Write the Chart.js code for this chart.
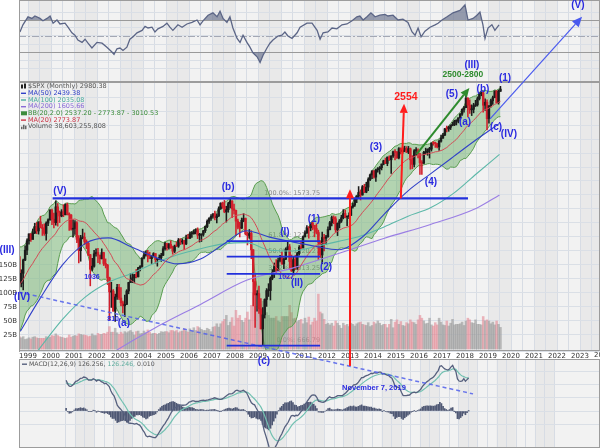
<!DOCTYPE html>
<html>
<head>
<meta charset="utf-8">
<script src="https://cdn.jsdelivr.net/npm/chart.js@4.4.1/dist/chart.umd.min.js"></script>
<style>
  html, body { margin: 0; padding: 0; background: #fff; }
  #wrap { position: relative; width: 600px; height: 448px; overflow: hidden; }
  canvas { position: absolute; left: 0; }
  #topCv { top: 0; z-index: 1; }
  #macdCv { top: 359px; z-index: 1; }
  #mainCv { top: 0; z-index: 2; }
</style>
</head>
<body>
<div id="wrap">
  <canvas id="topCv" width="600" height="82"></canvas>
  <canvas id="macdCv" width="600" height="89"></canvas>
  <canvas id="mainCv" width="600" height="448"></canvas>
</div>
<script>
// $SPX monthly closes, Jan 1995 .. Jul 2019 (the years before Aug 1998 only feed MA20 / BB / MACD)
const firstYear = 1995;
const closes = [
  470.42, 487.39, 500.71, 514.71, 533.40, 544.75, 562.06, 561.88, 584.41, 581.50, 605.37, 615.93,
  636.02, 640.43, 645.50, 654.17, 669.12, 670.63, 639.95, 651.99, 687.33, 705.27, 757.02, 740.74,
  786.16, 790.82, 757.12, 801.34, 848.28, 885.14, 954.31, 899.47, 947.28, 914.62, 955.40, 970.43,
  980.28, 1049.34, 1101.75, 1111.75, 1090.82, 1133.84, 1120.67, 957.28, 1017.01, 1098.67, 1163.63, 1229.23,
  1279.64, 1238.33, 1286.37, 1335.18, 1301.84, 1372.71, 1328.72, 1320.41, 1282.71, 1362.93, 1388.91, 1469.25,
  1394.46, 1366.42, 1498.58, 1452.43, 1420.60, 1454.60, 1430.83, 1517.68, 1436.51, 1429.40, 1314.95, 1320.28,
  1366.01, 1239.94, 1160.33, 1249.46, 1255.82, 1224.42, 1211.23, 1133.58, 1040.94, 1059.78, 1139.45, 1148.08,
  1130.20, 1106.73, 1147.39, 1076.92, 1067.14, 989.82, 911.62, 916.07, 815.28, 885.76, 936.31, 879.82,
  855.70, 841.15, 848.18, 916.92, 963.59, 974.50, 990.31, 1008.01, 995.97, 1050.71, 1058.20, 1111.92,
  1131.13, 1144.94, 1126.21, 1107.30, 1120.68, 1140.84, 1101.72, 1104.24, 1114.58, 1130.20, 1173.82, 1211.92,
  1181.27, 1203.60, 1180.59, 1156.85, 1191.50, 1191.33, 1234.18, 1220.33, 1228.81, 1207.01, 1249.48, 1248.29,
  1280.08, 1280.66, 1294.87, 1310.61, 1270.09, 1270.20, 1276.66, 1303.82, 1335.85, 1377.94, 1400.63, 1418.30,
  1438.24, 1406.82, 1420.86, 1482.37, 1530.62, 1503.35, 1455.27, 1473.99, 1526.75, 1549.38, 1481.14, 1468.36,
  1378.55, 1330.63, 1322.70, 1385.59, 1400.38, 1280.00, 1267.38, 1282.83, 1166.36, 968.75, 896.24, 903.25,
  825.88, 735.09, 797.87, 872.81, 919.14, 919.32, 987.48, 1020.62, 1057.08, 1036.19, 1095.63, 1115.10,
  1073.87, 1104.49, 1169.43, 1186.69, 1089.41, 1030.71, 1101.60, 1049.33, 1141.20, 1183.26, 1180.55, 1257.64,
  1286.12, 1327.22, 1325.83, 1363.61, 1345.20, 1320.64, 1292.28, 1218.89, 1131.42, 1253.30, 1246.96, 1257.60,
  1312.41, 1365.68, 1408.47, 1397.91, 1310.33, 1362.16, 1379.32, 1406.58, 1440.67, 1412.16, 1416.18, 1426.19,
  1498.11, 1514.68, 1569.19, 1597.57, 1630.74, 1606.28, 1685.73, 1632.97, 1681.55, 1756.54, 1805.81, 1848.36,
  1782.59, 1859.45, 1872.34, 1883.95, 1923.57, 1960.23, 1930.67, 2003.37, 1972.29, 2018.05, 2067.56, 2058.90,
  1994.99, 2104.50, 2067.89, 2085.51, 2107.39, 2063.11, 2103.84, 1972.18, 1920.03, 2079.36, 2080.41, 2043.94,
  1940.24, 1932.23, 2059.74, 2065.30, 2096.95, 2098.86, 2173.60, 2170.95, 2168.27, 2126.15, 2198.81, 2238.83,
  2278.87, 2363.64, 2362.72, 2384.20, 2411.80, 2423.41, 2470.30, 2471.65, 2519.36, 2575.26, 2647.58, 2673.61,
  2823.81, 2713.83, 2640.87, 2648.05, 2705.27, 2718.37, 2816.29, 2901.52, 2913.98, 2711.74, 2760.17, 2506.85,
  2704.10, 2784.49, 2834.40, 2945.83, 2752.06, 2941.76, 2980.38
];

// candles are drawn from Aug 1998 (index 43 of closes)
const candleStart = 43;
const highs = [
  1121, 1038, 1104, 1193, 1244,
  1280, 1282, 1316, 1362, 1368, 1373, 1419, 1352, 1357, 1373, 1397, 1474,
  1479, 1445, 1553, 1528, 1463, 1475, 1517, 1525, 1531, 1448, 1433, 1389,
  1384, 1376, 1268, 1269, 1316, 1287, 1236, 1220, 1136, 1110, 1163, 1173,
  1176, 1131, 1173, 1150, 1106, 1071, 994, 965, 925, 900, 954, 954,
  935, 865, 895, 924, 965, 1015, 1015, 1011, 1040, 1053, 1063, 1112,
  1155, 1159, 1163, 1150, 1128, 1147, 1141, 1109, 1132, 1143, 1188, 1218,
  1212, 1212, 1229, 1192, 1199, 1220, 1246, 1245, 1243, 1233, 1270, 1276,
  1295, 1297, 1311, 1318, 1326, 1284, 1281, 1306, 1340, 1390, 1407, 1432,
  1441, 1461, 1438, 1499, 1535, 1541, 1556, 1504, 1539, 1576, 1555, 1523,
  1471, 1396, 1370, 1404, 1440, 1404, 1293, 1313, 1304, 1167, 1007, 919,
  943, 877, 832, 876, 930, 957, 996, 1039, 1080, 1101, 1111, 1130,
  1150, 1113, 1180, 1220, 1203, 1131, 1120, 1130, 1150, 1196, 1227, 1263,
  1303, 1344, 1333, 1364, 1371, 1346, 1357, 1308, 1230, 1293, 1277, 1269,
  1333, 1378, 1420, 1422, 1415, 1364, 1392, 1427, 1475, 1470, 1420, 1448,
  1504, 1531, 1570, 1598, 1687, 1654, 1698, 1710, 1730, 1776, 1814, 1849,
  1851, 1868, 1884, 1897, 1925, 1968, 1992, 2006, 2019, 2019, 2076, 2093,
  2072, 2119, 2115, 2126, 2135, 2130, 2133, 2113, 2021, 2094, 2117, 2104,
  2044, 1963, 2072, 2111, 2103, 2121, 2178, 2194, 2187, 2169, 2214, 2278,
  2301, 2371, 2401, 2398, 2419, 2454, 2484, 2491, 2520, 2582, 2657, 2695,
  2873, 2835, 2801, 2718, 2743, 2791, 2848, 2916, 2941, 2940, 2815, 2800,
  2708, 2813, 2861, 2950, 2955, 2965, 3028
];
const lows = [
  940, 939, 923, 1094, 1134,
  1206, 1224, 1244, 1282, 1281, 1278, 1325, 1268, 1269, 1233, 1342, 1387,
  1350, 1325, 1347, 1339, 1367, 1414, 1415, 1430, 1429, 1305, 1308, 1255,
  1275, 1215, 1081, 1091, 1243, 1203, 1174, 1126, 945, 1031, 1054, 1124,
  1082, 1074, 1105, 1064, 1049, 952, 775, 833, 815, 768, 873, 872,
  840, 807, 789, 847, 902, 963, 963, 961, 990, 995, 1031, 1054,
  1106, 1123, 1087, 1107, 1077, 1118, 1078, 1060, 1100, 1090, 1127, 1163,
  1163, 1171, 1176, 1137, 1147, 1188, 1183, 1202, 1206, 1168, 1201, 1245,
  1245, 1253, 1277, 1280, 1245, 1220, 1224, 1263, 1290, 1327, 1360, 1385,
  1403, 1389, 1364, 1416, 1476, 1485, 1448, 1371, 1452, 1490, 1406, 1435,
  1270, 1317, 1257, 1321, 1374, 1272, 1200, 1247, 1107, 840, 741, 815,
  805, 735, 667, 783, 838, 888, 870, 979, 992, 1020, 1029, 1086,
  1071, 1045, 1101, 1165, 1040, 1028, 1011, 1040, 1040, 1131, 1173, 1179,
  1257, 1283, 1249, 1303, 1311, 1258, 1282, 1102, 1115, 1075, 1159, 1203,
  1255, 1310, 1341, 1358, 1292, 1267, 1325, 1368, 1397, 1404, 1343, 1399,
  1424, 1486, 1502, 1536, 1581, 1560, 1604, 1628, 1627, 1646, 1747, 1767,
  1771, 1738, 1834, 1815, 1859, 1915, 1929, 1905, 1964, 1821, 2001, 1972,
  1988, 1981, 2040, 2048, 2067, 2057, 2044, 1867, 1872, 1893, 2019, 1993,
  1812, 1810, 1931, 2039, 2025, 1992, 2075, 2147, 2120, 2115, 2084, 2187,
  2234, 2271, 2322, 2329, 2353, 2405, 2407, 2417, 2447, 2515, 2557, 2605,
  2672, 2533, 2585, 2553, 2594, 2691, 2698, 2796, 2865, 2604, 2631, 2347,
  2444, 2682, 2723, 2832, 2750, 2729, 2940
];
// monthly volume, billions of shares
const volumes = [
  22, 20, 22, 17, 18,
  20, 18, 21, 22, 20, 19, 19, 19, 19, 22, 20, 21,
  24, 23, 27, 24, 22, 21, 20, 19, 20, 25, 21, 23,
  24, 23, 27, 26, 25, 25, 24, 22, 23, 27, 24, 24,
  28, 26, 26, 28, 27, 30, 40, 30, 30, 37, 29, 26,
  30, 27, 31, 29, 31, 33, 30, 25, 31, 32, 27, 28,
  32, 29, 34, 30, 27, 28, 28, 26, 28, 31, 30, 31,
  31, 29, 33, 33, 31, 33, 29, 31, 32, 36, 32, 30,
  36, 32, 38, 33, 40, 38, 35, 33, 33, 37, 35, 31,
  39, 40, 45, 39, 45, 49, 53, 60, 42, 48, 56, 41,
  69, 55, 60, 51, 48, 55, 66, 52, 78, 100, 76, 67,
  70, 80, 85, 70, 65, 60, 55, 55, 55, 58, 50, 48,
  58, 58, 58, 58, 78, 65, 54, 55, 49, 51, 53, 45,
  55, 47, 57, 43, 48, 55, 50, 98, 66, 63, 53, 44,
  46, 43, 46, 41, 50, 46, 42, 37, 46, 42, 44, 40,
  46, 44, 41, 45, 47, 48, 44, 43, 42, 47, 40, 42,
  48, 45, 50, 46, 42, 44, 44, 38, 44, 53, 38, 48,
  52, 44, 49, 42, 41, 47, 45, 52, 48, 47, 44, 52,
  60, 55, 50, 45, 46, 55, 43, 41, 47, 43, 55, 48,
  43, 42, 50, 41, 46, 53, 43, 44, 44, 45, 48, 42,
  50, 55, 52, 47, 46, 52, 44, 44, 43, 58, 50, 52,
  50, 45, 48, 43, 50, 44, 38.6
];

// long moving averages (mid-year points)
const maYears = [1998.67, 1999.5, 2000.5, 2001.5, 2002.5, 2003.5, 2004.5, 2005.5, 2006.5, 2007.5, 2008.5,
                 2009.5, 2010.5, 2011.5, 2012.5, 2013.5, 2014.5, 2015.5, 2016.5, 2017.5, 2018.5, 2019.5];
const ma50 = [725, 873, 1068, 1211, 1250, 1186, 1119, 1074, 1105, 1205, 1303,
              1256, 1221, 1190, 1167, 1251, 1439, 1641, 1817, 2009, 2220, 2439];
const ma100 = [567, 655, 777, 886, 965, 1016, 1078, 1133, 1174, 1207, 1216,
               1165, 1158, 1189, 1225, 1266, 1334, 1417, 1490, 1621, 1818, 2035];
const ma200Years = [2000.5, 2002.5, 2004.5, 2006.5, 2008.5, 2010.5, 2012.5, 2014.5, 2016.5, 2018.5, 2019.5];
const ma200 = [524, 630, 738, 848, 976, 1048, 1141, 1248, 1352, 1487, 1606];

// top indicator panel
const rsiYears = [
  1998.65, 1998.78, 1999.00, 1999.17, 1999.30, 1999.52, 1999.65, 1999.83, 1999.96, 2000.09, 2000.26, 2000.39,
  2000.61, 2000.74, 2000.91, 2001.04, 2001.17, 2001.35, 2001.48, 2001.61, 2001.78, 2002.00, 2002.22, 2002.43,
  2002.65, 2002.74, 2002.87, 2003.00, 2003.13, 2003.30, 2003.43, 2003.57, 2003.74, 2003.96, 2004.09, 2004.22,
  2004.39, 2004.52, 2004.65, 2004.87, 2005.04, 2005.17, 2005.30, 2005.52, 2005.70, 2005.91, 2006.13, 2006.35,
  2006.48, 2006.61, 2006.83, 2007.04, 2007.22, 2007.35, 2007.48, 2007.65, 2007.78, 2007.91, 2008.09, 2008.22,
  2008.35, 2008.52, 2008.65, 2008.78, 2008.96, 2009.09, 2009.22, 2009.39, 2009.52, 2009.65, 2009.87, 2010.04,
  2010.17, 2010.30, 2010.48, 2010.70, 2010.83, 2011.13, 2011.35, 2011.57, 2011.70, 2011.83, 2012.04, 2012.22,
  2012.43, 2012.65, 2012.87, 2013.09, 2013.30, 2013.43, 2013.57, 2013.74, 2013.91, 2014.09, 2014.30, 2014.52,
  2014.65, 2014.87, 2015.09, 2015.30, 2015.52, 2015.70, 2015.83, 2015.96, 2016.09, 2016.26, 2016.48, 2016.70,
  2016.83, 2017.00, 2017.22, 2017.48, 2017.78, 2018.00, 2018.13, 2018.35, 2018.52, 2018.65, 2018.78, 2018.87,
  2019.00, 2019.17, 2019.30, 2019.48
];
const rsiValues = [
  55, 64, 74, 72, 75, 72, 69, 72, 75, 66, 70, 65,
  66, 61, 54, 51, 45, 42, 46, 41, 35, 42, 41, 36,
  30, 27, 34, 35, 32, 36, 46, 49, 54, 57, 62, 60,
  61, 55, 59, 62, 66, 61, 57, 64, 61, 65, 67, 70,
  64, 69, 76, 79, 74, 81, 72, 67, 74, 60, 47, 42,
  51, 42, 36, 29, 24, 17, 26, 35, 41, 45, 50, 51,
  55, 50, 47, 54, 61, 66, 66, 57, 46, 54, 55, 60,
  59, 64, 65, 69, 74, 75, 70, 74, 79, 74, 76, 77,
  75, 76, 70, 71, 67, 55, 51, 60, 49, 56, 61, 64,
  66, 70, 74, 79, 82, 89, 70, 72, 76, 80, 64, 47,
  60, 64, 57, 64
];
const rsiLevels = [70, 50, 30];

const xMin = 1998.609, xMax = 2023.87;
const yearTicks = [2024]; // year label cut off at the right edge

// annotations, in (year, price) terms of the price panel
const fibHigh = 1573.75, fibLow = 666.79;
const fibLevels = [0.618, 0.5, 0.382, 0];
const fibSpan = [2007.64, 2011.70];
const topLine = { from: 2000.07, to: 2018.13, price: 1573.75 };
const arrows = [
  { kind: 'red', x0: 2013.0, p0: 592, x1: 2013.0, p1: 1660 },
  { kind: 'red', x0: 2015.21, p0: 1573.75, x1: 2015.35, p1: 2734 },
  { kind: 'green', x0: 2015.9, p0: 2039, x1: 2018.19, p1: 3000 },
  { kind: 'blue', x0: 2019.09, p0: 2505, x1: 2023.09, p1: 4545 }
];
const dashTrend = { x0: 1998.61, p0: 911, x1: 2018.35, p1: 503 };
const waveLabels = [
  ['(III)', 1998.09, 1166, 'wave'], ['(IV)', 1998.74, 885, 'wave'], ['(V)', 2000.39, 1640, 'wave'],
  ['1036', 2001.78, 995, 'small'], ['810', 2002.70, 777, 'small'], ['(a)', 2003.17, 759, 'wave'],
  ['(b)', 2007.70, 1679, 'wave'], ['(I)', 2010.17, 1289, 'wave'], ['(1)', 2011.43, 1390, 'wave'],
  ['(2)', 2011.96, 1055, 'wave'], ['1027', 2010.22, 995, 'small'], ['(II)', 2010.70, 960, 'wave'],
  ['(c)', 2009.26, 607, 'wave'], ['(3)', 2014.13, 2124, 'wave'], ['(4)', 2016.52, 1729, 'wave'],
  ['(5)', 2017.43, 2899, 'wave'], ['(a)', 2018.00, 2461, 'wave'], ['(b)', 2018.78, 2970, 'wave'],
  ['(c)', 2019.35, 2391, 'wave'], ['(IV)', 2019.91, 2292, 'wave'], ['(1)', 2019.74, 3169, 'wave'],
  ['(III)', 2018.30, 3418, 'wave'], ['(V)', 2022.91, 4863, 'wave'],
  ['2500-2800', 2017.91, 3244, 'target'], ['2554', 2015.43, 2850, 'red'],
  ['November 7, 2019', 2014.04, 521, 'date']
];

// ---- derived series ----
const monthPos = i => firstYear + (i + 0.5) / 12;

const ma20Pts = [], bbUpPts = [], bbLowPts = [];
for (let i = candleStart - 1; i < closes.length; i++) {
  const win = closes.slice(i - 19, i + 1);
  const m = win.reduce((a, b) => a + b, 0) / 20;
  const sd = Math.sqrt(win.reduce((a, b) => a + (b - m) * (b - m), 0) / 20);
  ma20Pts.push({ x: monthPos(i), y: m });
  bbUpPts.push({ x: monthPos(i), y: m + 2 * sd });
  bbLowPts.push({ x: monthPos(i), y: m - 2 * sd });
}

function ema(arr, n) {
  const k = 2 / (n + 1);
  let e = arr[0];
  return arr.map((v, i) => (i === 0 ? e : (e = v * k + e * (1 - k))));
}
const ema12 = ema(closes, 12), ema26 = ema(closes, 26);
const macd = closes.map((c, i) => ema12[i] - ema26[i]);
const signal = ema(macd, 9);

const wickPts = [], bodyPts = [], volPts = [], upFlags = [];
const macdPts = [], sigPts = [], histPts = [];
for (let i = candleStart; i < closes.length; i++) {
  const k = i - candleStart;
  const open = closes[i - 1], close = closes[i];
  const x = monthPos(i);
  upFlags.push(close >= open);
  wickPts.push({ x, y: [lows[k], highs[k]] });
  bodyPts.push({ x, y: [open, close] });
  volPts.push({ x, y: volumes[k] });
}
for (let i = candleStart - 1; i < closes.length; i++) {
  macdPts.push({ x: monthPos(i), y: macd[i] });
  sigPts.push({ x: monthPos(i), y: signal[i] });
  histPts.push({ x: monthPos(i), y: macd[i] - signal[i] });
}

// ---- shared panel background: alternate year bands + half-year grid ----
const panelBg = {
  id: 'panelBg',
  beforeDraw(chart) {
    const { ctx, chartArea: a, scales: { x } } = chart;
    ctx.save();
    ctx.fillStyle = '#f2f2f2';
    ctx.fillRect(a.left, a.top, a.right - a.left, a.bottom - a.top);
    ctx.beginPath();
    ctx.rect(a.left, a.top, a.right - a.left, a.bottom - a.top);
    ctx.clip();
    ctx.fillStyle = '#e9e9e9';
    for (let yr = 1999; yr < 2025; yr += 2) {
      const x0 = x.getPixelForValue(yr), x1 = x.getPixelForValue(yr + 1);
      ctx.fillRect(x0, a.top, x1 - x0, a.bottom - a.top);
    }
    ctx.strokeStyle = '#d7dce4';
    ctx.lineWidth = 1;
    for (let v = 1998.5; v < 2024.5; v += 0.5) {
      const px = Math.round(x.getPixelForValue(v)) + 0.5;
      ctx.beginPath(); ctx.moveTo(px, a.top); ctx.lineTo(px, a.bottom); ctx.stroke();
    }
    ctx.restore();
  },
  afterDraw(chart) {
    const { ctx, chartArea: a } = chart;
    ctx.save();
    ctx.strokeStyle = '#9c9c9c';
    ctx.lineWidth = 1;
    ctx.strokeRect(a.left + 0.5, a.top + 0.5, a.right - a.left - 1, a.bottom - a.top - 1);
    ctx.restore();
  }
};

const hideAxisX = { type: 'linear', min: xMin, max: xMax, display: false };
const leftAxisFit = s => { s.width = 19; };

// ---- top indicator panel ----
const shade = 'rgba(92,102,132,0.6)';
new Chart(document.getElementById('topCv'), {
  type: 'line',
  data: {
    datasets: [
      { data: rsiYears.map((t, i) => ({ x: t, y: rsiValues[i] })), borderColor: '#5b6586', borderWidth: 1.3,
        pointRadius: 0, fill: false, order: 1 },
      { data: rsiYears.map((t, i) => ({ x: t, y: rsiValues[i] })), borderWidth: 0, pointRadius: 0,
        fill: { target: { value: 70 }, above: shade, below: 'rgba(0,0,0,0)' }, order: 2 },
      { data: rsiYears.map((t, i) => ({ x: t, y: rsiValues[i] })), borderWidth: 0, pointRadius: 0,
        fill: { target: { value: 30 }, above: 'rgba(0,0,0,0)', below: shade }, order: 3 }
    ]
  },
  options: {
    responsive: false, animation: false, devicePixelRatio: 1,
    layout: { padding: 0 },
    plugins: { legend: { display: false }, tooltip: { enabled: false } },
    scales: {
      x: hideAxisX,
      y: { min: -7.5, max: 95, grid: { color: '#dadfe6', drawTicks: false }, border: { display: false },
           ticks: { display: false, stepSize: 10 }, afterFit: leftAxisFit }
    }
  },
  plugins: [panelBg, {
    id: 'levels',
    beforeDatasetsDraw(chart) {
      const { ctx, chartArea: a, scales: { y } } = chart;
      ctx.save();
      rsiLevels.forEach(v => {
        const py = Math.round(y.getPixelForValue(v)) + 0.5;
        ctx.strokeStyle = v === 50 ? '#a4a8b4' : '#9a9a9a';
        ctx.setLineDash(v === 50 ? [7, 2, 2, 2] : []);
        ctx.beginPath(); ctx.moveTo(a.left, py); ctx.lineTo(a.right, py); ctx.stroke();
      });
      ctx.restore();
    }
  }]
});

// ---- MACD panel ----
new Chart(document.getElementById('macdCv'), {
  type: 'bar',
  data: {
    datasets: [
      { type: 'line', data: macdPts, borderColor: '#56607e', borderWidth: 1.3, pointRadius: 0, order: 1 },
      { type: 'line', data: sigPts, borderColor: '#72c1b1', borderWidth: 1.2, pointRadius: 0, order: 2 },
      { data: histPts, backgroundColor: '#4f5874', barThickness: 1, grouped: false, order: 3 }
    ]
  },
  options: {
    responsive: false, animation: false, devicePixelRatio: 1,
    layout: { padding: 0 },
    plugins: { legend: { display: false }, tooltip: { enabled: false } },
    scales: {
      x: hideAxisX,
      y: { min: -141, max: 198.5, grid: { color: '#dadfe6', drawTicks: false }, border: { display: false },
           ticks: { display: false, stepSize: 50 }, afterFit: leftAxisFit }
    }
  },
  plugins: [panelBg, {
    id: 'macdLegend',
    afterDraw(chart) {
      const { ctx, chartArea: a } = chart;
      ctx.save();
      ctx.font = '6.2px "DejaVu Sans"';
      ctx.textBaseline = 'middle';
      let x = a.left + 3;
      const y = a.top + 5;
      ctx.fillStyle = '#56607e';
      ctx.fillRect(x, y - 0.5, 5, 1.4);
      x += 7;
      [['MACD(12,26,9) 126.256, ', '#555'], ['126.246, ', '#5fae9e'], ['0.010', '#555']].forEach(([t, c]) => {
        ctx.fillStyle = c;
        ctx.fillText(t, x, y);
        x += ctx.measureText(t).width;
      });
      ctx.restore();
    }
  }]
});

// ---- main price panel (full-page canvas so the annotations can cross panels) ----
function arrow(ctx, x0, y0, x1, y1, head) {
  const ang = Math.atan2(y1 - y0, x1 - x0);
  const bx = x1 - head * Math.cos(ang), by = y1 - head * Math.sin(ang);
  ctx.beginPath(); ctx.moveTo(x0, y0); ctx.lineTo(bx, by); ctx.stroke();
  ctx.beginPath();
  ctx.moveTo(x1, y1);
  ctx.lineTo(bx + head * 0.45 * Math.sin(ang), by - head * 0.45 * Math.cos(ang));
  ctx.lineTo(bx - head * 0.45 * Math.sin(ang), by + head * 0.45 * Math.cos(ang));
  ctx.closePath(); ctx.fill();
}

const annotations = {
  id: 'annotations',
  beforeDatasetsDraw(chart) {
    const { ctx, scales: { x, y } } = chart;
    ctx.save();
    ctx.font = '6.5px "DejaVu Sans"';
    ctx.fillStyle = '#8a8a8a';
    ctx.textAlign = 'right';
    ctx.textBaseline = 'bottom';
    [1].concat(fibLevels).forEach(l => {
      const p = fibLow + (fibHigh - fibLow) * l;
      ctx.fillText((l * 100).toFixed(1) + '%: ' + p.toFixed(2), x.getPixelForValue(fibSpan[1]), y.getPixelForValue(p) - 2);
    });
    ctx.restore();
  },
  afterDraw(chart) {
    const { ctx, scales: { x, y } } = chart;
    const X = v => x.getPixelForValue(v), P = v => y.getPixelForValue(v);
    ctx.save();
    // year label clipped by the right edge
    ctx.font = '7px "DejaVu Sans"';
    ctx.fillStyle = '#333';
    ctx.textAlign = 'center';
    ctx.textBaseline = 'top';
    yearTicks.forEach(t => ctx.fillText(String(t), X(t), chart.chartArea.bottom + 1));
    // dashed trend line
    ctx.strokeStyle = 'rgba(80,95,235,0.85)';
    ctx.lineWidth = 1.5;
    ctx.setLineDash([4, 3]);
    ctx.beginPath(); ctx.moveTo(X(dashTrend.x0), P(dashTrend.p0)); ctx.lineTo(X(dashTrend.x1), P(dashTrend.p1)); ctx.stroke();
    ctx.setLineDash([]);
    // horizontal lines
    ctx.strokeStyle = '#2230dc';
    ctx.lineWidth = 2.2;
    ctx.beginPath(); ctx.moveTo(X(topLine.from), P(topLine.price)); ctx.lineTo(X(topLine.to), P(topLine.price)); ctx.stroke();
    ctx.lineWidth = 1.8;
    fibLevels.forEach(l => {
      const py = P(fibLow + (fibHigh - fibLow) * l);
      ctx.beginPath(); ctx.moveTo(X(fibSpan[0]), py); ctx.lineTo(X(fibSpan[1]), py); ctx.stroke();
    });
    // arrows
    const arrowStyle = { red: ['#ff1c1c', 2, 9], green: ['#2e8b2e', 2, 9], blue: ['#4a5aee', 1.2, 10] };
    arrows.forEach(a => {
      const [c, w, h] = arrowStyle[a.kind];
      ctx.strokeStyle = c; ctx.fillStyle = c; ctx.lineWidth = w;
      arrow(ctx, X(a.x0), P(a.p0), X(a.x1), P(a.p1), h);
    });
    // labels
    const labelStyle = {
      wave: ['bold 10px "Liberation Sans"', '#2a2ae0'],
      small: ['bold 7px "Liberation Sans"', '#2a2ae0'],
      target: ['bold 8.5px "Liberation Sans"', '#2e8b2e'],
      red: ['bold 10.5px "Liberation Sans"', '#ff1c1c'],
      date: ['bold 7.5px "Liberation Sans"', '#2a2ae0']
    };
    ctx.textAlign = 'center';
    ctx.textBaseline = 'middle';
    waveLabels.forEach(([t, yr, p, kind]) => {
      ctx.font = labelStyle[kind][0];
      ctx.fillStyle = labelStyle[kind][1];
      ctx.fillText(t, X(yr), P(p));
    });
    // legend
    const a = chart.chartArea;
    const rows = [
      ['candle', '$SPX (Monthly) 2980.38', '#555555'],
      ['line', 'MA(50) 2439.38', '#3040c8'],
      ['line', 'MA(100) 2035.08', '#4aae9f'],
      ['line', 'MA(200) 1605.66', '#8a6ad8'],
      ['band', 'BB(20,2.0) 2537.20 - 2773.87 - 3010.53', '#3c8c3c'],
      ['line', 'MA(20) 2773.87', '#cc3344'],
      ['vol', 'Volume 38,603,255,808', '#555555']
    ];
    ctx.font = '6.5px "DejaVu Sans"';
    ctx.textAlign = 'left';
    rows.forEach(([icon, t, c], i) => {
      const ly = a.top + 4.5 + i * 6.7;
      const lx = a.left + 2;
      ctx.fillStyle = c;
      if (icon === 'line') ctx.fillRect(lx, ly - 0.6, 5, 1.4);
      else if (icon === 'candle') { ctx.fillStyle = '#222'; ctx.fillRect(lx, ly - 2, 2, 4); ctx.fillRect(lx + 3, ly - 3, 2, 5); }
      else if (icon === 'band') { ctx.fillRect(lx, ly - 2, 6, 4); }
      else { ctx.fillStyle = '#666'; ctx.fillRect(lx, ly, 1.5, 2.5); ctx.fillRect(lx + 2, ly - 2, 1.5, 4.5); ctx.fillRect(lx + 4, ly - 1, 1.5, 3.5); }
      ctx.fillStyle = c;
      ctx.fillText(t, lx + 7, ly);
    });
    ctx.restore();
  }
};

const candleColor = ctx => (upFlags[ctx.dataIndex] ? '#1c1c1c' : '#d21f2b');
const volColor = ctx => (upFlags[ctx.dataIndex] ? 'rgba(150,150,150,0.6)' : 'rgba(228,128,140,0.55)');

new Chart(document.getElementById('mainCv'), {
  type: 'bar',
  data: {
    datasets: [
      { type: 'line', label: 'MA(20)', data: ma20Pts, borderColor: '#d44a55', borderWidth: 1, pointRadius: 0, order: 1 },
      { type: 'line', label: 'MA(50)', data: maYears.map((t, i) => ({ x: t, y: ma50[i] })), borderColor: '#3040c8',
        borderWidth: 1.1, pointRadius: 0, cubicInterpolationMode: 'monotone', order: 1 },
      { type: 'line', label: 'MA(100)', data: maYears.map((t, i) => ({ x: t, y: ma100[i] })), borderColor: '#5cb8a8',
        borderWidth: 1.1, pointRadius: 0, cubicInterpolationMode: 'monotone', order: 1 },
      { type: 'line', label: 'MA(200)', data: ma200Years.map((t, i) => ({ x: t, y: ma200[i] })), borderColor: '#9a7ee4',
        borderWidth: 1.1, pointRadius: 0, cubicInterpolationMode: 'monotone', order: 1 },
      { type: 'line', label: 'BB upper', data: bbUpPts, borderColor: '#5a9e50', borderWidth: 1, pointRadius: 0,
        fill: false, order: 6 },
      { type: 'line', label: 'BB lower', data: bbLowPts, borderColor: '#5a9e50', borderWidth: 1, pointRadius: 0,
        fill: '-1', backgroundColor: 'rgba(84,168,80,0.4)', order: 6 },
      { label: 'body', data: bodyPts, backgroundColor: candleColor, barThickness: 1.8, grouped: false,
        minBarLength: 1, order: 3 },
      { label: 'wick', data: wickPts, backgroundColor: candleColor, barThickness: 0.9, grouped: false, order: 4 },
      { label: 'volume', data: volPts, yAxisID: 'yVol', backgroundColor: volColor, barThickness: 1.9,
        grouped: false, order: 8 }
    ]
  },
  options: {
    responsive: false, animation: false, devicePixelRatio: 1,
    layout: { padding: { top: 82, bottom: 89, left: 0, right: 0 } },
    plugins: { legend: { display: false }, tooltip: { enabled: false } },
    scales: {
      x: { type: 'linear', min: xMin, max: xMax, offset: false,
           grid: { display: false, drawTicks: false }, border: { display: false },
           ticks: { stepSize: 1, includeBounds: false, autoSkip: false, maxRotation: 0, padding: 1,
                    color: '#333', font: { family: 'DejaVu Sans', size: 7 }, callback: v => String(v) },
           afterFit: s => { s.height = 8; } },
      y: { type: 'logarithmic', display: false, position: 'right', min: 646, max: 3106 },
      yVol: { type: 'linear', position: 'left', min: -3.6, max: 476.8,
              grid: { color: '#dadfe6', drawTicks: false }, border: { color: '#9c9c9c' },
              ticks: { stepSize: 25, padding: 2, color: '#333', font: { family: 'DejaVu Sans', size: 7 },
                       callback: v => (v > 0 && v <= 150 ? v + 'B' : '') },
              afterFit: leftAxisFit }
    }
  },
  plugins: [panelBg, annotations]
});
</script>
</body>
</html>
